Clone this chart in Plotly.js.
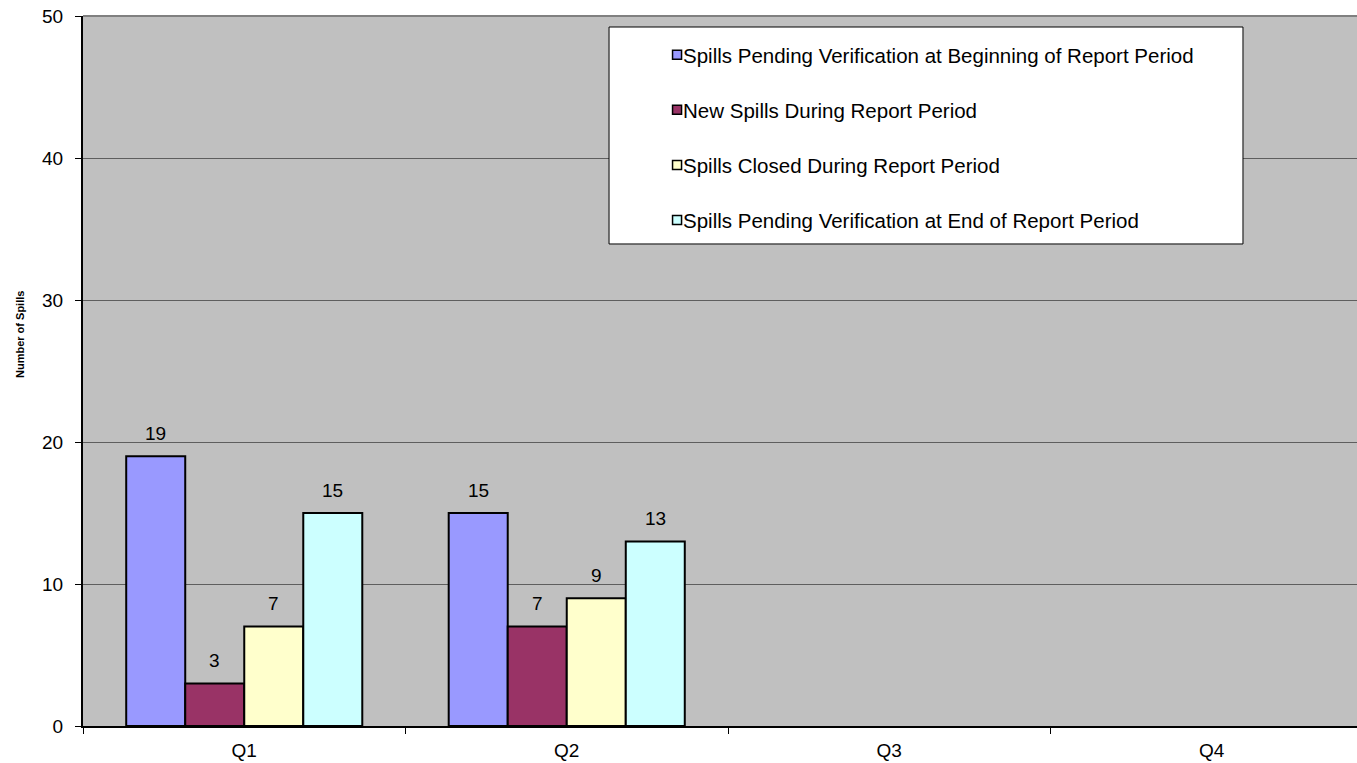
<!DOCTYPE html>
<html>
<head>
<meta charset="utf-8">
<script src="https://cdn.plot.ly/plotly-3.0.1.min.js"></script>
<style>html,body{margin:0;padding:0;background:#fff;}#chart{width:1357px;height:763px;}</style>
</head>
<body>
<div id="chart"></div>
<script>
const categories = ['Q1', 'Q2', 'Q3', 'Q4'];
const seriesNames = [
  'Spills Pending Verification at Beginning of Report Period',
  'New Spills During Report Period',
  'Spills Closed During Report Period',
  'Spills Pending Verification at End of Report Period'
];
const pendingBegin = [19, 15, null, null];
const newSpills = [3, 7, null, null];
const closedSpills = [7, 9, null, null];
const pendingEnd = [15, 13, null, null];
const seriesColors = ['#9999FF', '#993366', '#FFFFCC', '#CCFFFF'];
const yTicks = [0, 10, 20, 30, 40, 50];

const FONT = 'Liberation Sans, Arial, sans-serif';
const seriesValues = [pendingBegin, newSpills, closedSpills, pendingEnd];
const nSeries = seriesValues.length;
const bargap = 0.268;
const xRange = [-0.5, 3.4504];
const plotWidthPx = 1357 - 83;
const catPx = plotWidthPx / (xRange[1] - xRange[0]);
const barPx = catPx * (1 - bargap) / nSeries;

const traces = seriesValues.map((vals, i) => ({
  type: 'bar',
  name: seriesNames[i],
  x: categories,
  y: vals,
  marker: {color: seriesColors[i], line: {color: '#000', width: 2}},
  legendgroup: 'g' + i,
  hoverinfo: 'skip'
}));

const annotations = [];
seriesValues.forEach((vals, i) => {
  vals.forEach((v, j) => {
    if (v == null) return;
    annotations.push({
      x: categories[j], y: v, xref: 'x', yref: 'y',
      text: String(v), showarrow: false,
      xshift: (i - (nSeries - 1) / 2) * barPx, yshift: 23,
      font: {family: FONT, size: 19, color: '#000'}
    });
  });
});
annotations.push({
  xref: 'paper', yref: 'paper', x: -0.0495, y: 0.552,
  xanchor: 'center', yanchor: 'middle',
  text: '<b>Number of Spills</b>', showarrow: false, textangle: -90,
  font: {family: FONT, size: 11, color: '#000'}
});

const layout = {
  width: 1357,
  height: 763,
  margin: {l: 83, r: 0, t: 16, b: 37},
  paper_bgcolor: '#ffffff',
  plot_bgcolor: '#C0C0C0',
  barmode: 'group',
  bargap: bargap,
  bargroupgap: 0,
  showlegend: true,
  font: {family: FONT, size: 19, color: '#000'},
  legend: {
    x: 0.4396, y: 0.9735, xanchor: 'left', yanchor: 'top',
    bgcolor: 'rgba(0,0,0,0)', borderwidth: 0,
    traceorder: 'grouped', tracegroupgap: 25.5,
    font: {family: FONT, size: 20.5, color: '#000'},
    itemclick: false, itemdoubleclick: false
  },
  xaxis: {
    type: 'category',
    range: xRange,
    tickson: 'boundaries',
    ticks: 'outside', ticklen: 6, tickcolor: '#000', tickwidth: 1,
    showline: true, linecolor: '#000', linewidth: 2,
    showgrid: false, zeroline: false,
    tickfont: {family: FONT, size: 19, color: '#000'},
    ticklabelstandoff: 6,
    fixedrange: true
  },
  yaxis: {
    range: [0, 50],
    tickvals: yTicks,
    ticktext: yTicks.map(String),
    ticks: 'outside', ticklen: 6, tickcolor: '#000', tickwidth: 1,
    showline: true, linecolor: '#000', linewidth: 2,
    showgrid: true, gridcolor: '#5e5e5e', gridwidth: 1,
    zeroline: false,
    tickfont: {family: FONT, size: 19, color: '#000'},
    ticklabelstandoff: 8,
    fixedrange: true
  },
  annotations: annotations,
  shapes: [
    {type: 'line', xref: 'paper', yref: 'paper', x0: 0, x1: 1, y0: 1, y1: 1,
     line: {color: '#808080', width: 2}},
    {type: 'rect', xref: 'paper', yref: 'paper', x0: 0.4129, x1: 0.9105, y0: 0.6789, y1: 0.9845,
     fillcolor: '#ffffff', line: {color: '#000', width: 1}, layer: 'above'}
  ]
};

Plotly.newPlot('chart', traces, layout, {displayModeBar: false, staticPlot: true}).then(gd => {
  // make legend swatches small squares sitting right next to their labels, as in the reference
  gd.querySelectorAll('.legend .traces .legendpoints').forEach(g => {
    g.setAttribute('transform', 'translate(14,0)');
    g.querySelectorAll('path').forEach(p => {
      p.setAttribute('d', 'M4.5,4.5H-4.5V-4.5H4.5Z');
      p.style.strokeWidth = '1.5px';
    });
  });
});
</script>
</body>
</html>
